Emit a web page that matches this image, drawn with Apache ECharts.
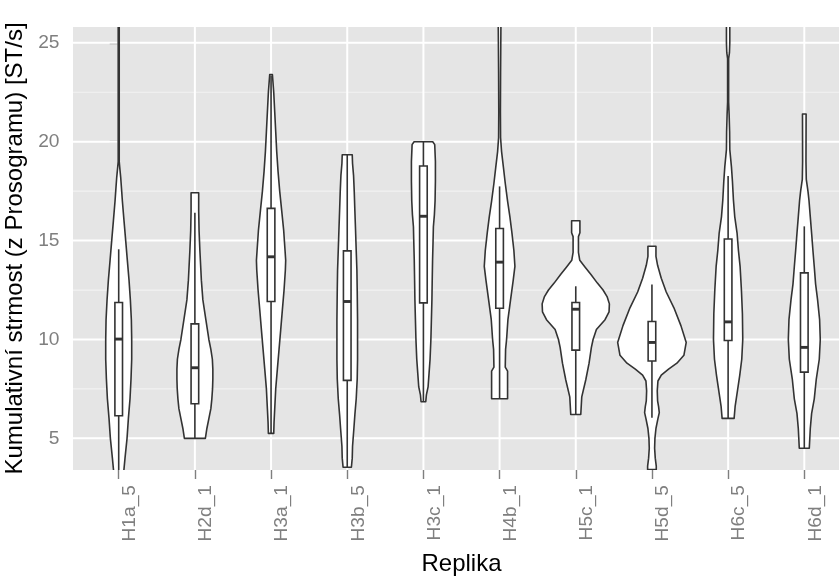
<!DOCTYPE html>
<html><head><meta charset="utf-8">
<script src="https://cdn.jsdelivr.net/npm/echarts@6/dist/echarts.min.js"></script>
<style>html,body{margin:0;padding:0;background:#fff}#chart{width:839px;height:577px}</style>
</head><body><div id="chart"></div>
<script>
// ---------- data ----------
const categories = ['H1a_5','H2d_1','H3a_1','H3b_5','H3c_1','H4b_1','H5c_1','H5d_5','H6c_5','H6d_1'];
const yTicks = [5, 10, 15, 20, 25];
const yMinorTicks = [7.5, 12.5, 17.5, 22.5];

// boxplot statistics per category
const q1          = [6.14, 6.75, 11.92, 7.93, 11.85, 11.58, 9.46, 8.91, 9.95, 8.35];
const median      = [10.02, 8.57, 14.18, 11.92, 16.23, 13.91, 11.53, 9.85, 10.89, 9.6];
const q3          = [11.87, 10.79, 16.63, 14.48, 18.77, 15.61, 11.87, 10.91, 15.08, 13.37];
const whiskerLow  = [2.8, 5.0, 5.25, 3.54, 6.85, 7.0, 6.21, 6.04, 6.01, 4.5];
const whiskerHigh = [14.56, 16.41, 23.35, 19.34, 20.0, 17.74, 12.69, 12.78, 18.27, 15.72];

// violin profiles: [value, relative density width (1 = widest violin)]
const violinH1a5 = [[26.5,0.015],[19.0,0.015],[18.7,0.03],[18.2,0.058],[17.5,0.087],[17.0,0.107],[16,0.155],[15,0.204],[14,0.252],[13,0.301],[12,0.340],[11,0.369],[10,0.379],[9,0.379],[8,0.359],[7,0.330],[6,0.282],[5,0.243],[4,0.184],[3.3,0.146],[2.8,0.12]];
const violinH2d1 = [[17.42,0.111],[16.5,0.111],[15.5,0.122],[14.5,0.146],[13.5,0.175],[13,0.189],[12,0.233],[11,0.320],[10,0.408],[9.5,0.466],[9,0.510],[8.5,0.524],[8,0.524],[7.5,0.515],[7,0.495],[6.5,0.466],[6,0.408],[5.5,0.350],[5.0,0.306]];
const violinH3a1 = [[23.4,0.039],[22.5,0.078],[21.5,0.107],[20.5,0.136],[19.5,0.165],[18.5,0.204],[17.5,0.252],[16.5,0.311],[15.5,0.369],[14.5,0.408],[14.0,0.427],[13.5,0.417],[12.5,0.379],[11.5,0.330],[10.5,0.282],[9.5,0.233],[8.5,0.184],[7.5,0.136],[6.5,0.107],[5.8,0.087],[5.25,0.078]];
const violinH3b5 = [[19.34,0.146],[18.9,0.155],[18.3,0.184],[17.5,0.204],[16.5,0.223],[15.5,0.243],[14.5,0.262],[13.5,0.282],[12.5,0.291],[11,0.301],[10,0.301],[9,0.301],[8,0.291],[7,0.262],[6.2,0.223],[5.5,0.194],[4.6,0.155],[4.0,0.146],[3.54,0.121]];
const violinH3c1 = [[20.0,0.272],[19.85,0.330],[19.0,0.350],[18.0,0.350],[17.0,0.340],[16.3,0.320],[15.7,0.291],[15.0,0.282],[14.0,0.267],[13.0,0.257],[12.0,0.248],[11.0,0.233],[10.0,0.218],[9.0,0.194],[8.3,0.165],[7.6,0.136],[7.2,0.087],[6.85,0.068]];
const violinH4b1 = [[26.5,0.039],[25.9,0.039],[23.5,0.029],[21.5,0.024],[20.2,0.029],[19.5,0.058],[18.7,0.112],[17.9,0.165],[17.0,0.233],[16.2,0.301],[15.4,0.359],[14.5,0.417],[13.7,0.447],[13.0,0.398],[12.0,0.320],[11.0,0.243],[10.0,0.204],[9.5,0.175],[8.6,0.165],[8.4,0.233],[7.0,0.233]];
const violinH5c1 = [[16.0,0.121],[15.4,0.121],[15.2,0.078],[14.4,0.078],[14.0,0.117],[13.68,0.262],[13.3,0.437],[12.85,0.631],[12.5,0.796],[12.17,0.913],[11.8,0.981],[11.4,0.971],[11.0,0.854],[10.5,0.602],[10.0,0.505],[9.6,0.456],[8.8,0.388],[7.95,0.291],[7.1,0.175],[6.21,0.146]];
const violinH5d5 = [[14.71,0.117],[14.2,0.117],[13.75,0.165],[13.1,0.272],[12.4,0.417],[11.6,0.641],[10.7,0.845],[9.85,1.0],[9.2,0.932],[8.8,0.728],[8.5,0.485],[8.2,0.272],[7.9,0.175],[7.4,0.155],[6.9,0.165],[6.6,0.194],[6.3,0.214],[6.0,0.175],[5.5,0.117],[5.0,0.087],[4.5,0.078],[4.0,0.097],[3.6,0.126],[3.42,0.126]];
const violinH6c5 = [[26.5,0.049],[25.0,0.049],[24.5,0.039],[24.2,0.015],[22.0,0.015],[21.4,0.029],[20.5,0.044],[19.6,0.049],[18.73,0.097],[18.0,0.126],[17.05,0.155],[16.2,0.194],[15.36,0.262],[14.5,0.301],[13.68,0.350],[12.5,0.388],[11.3,0.417],[10.0,0.427],[9.0,0.398],[8.2,0.340],[7.4,0.272],[6.6,0.204],[6.01,0.175]];
const violinH6d1 = [[21.4,0.053],[19.0,0.049],[18.1,0.058],[17.5,0.107],[17.05,0.136],[16.2,0.175],[15.36,0.214],[14.5,0.252],[13.68,0.291],[12.8,0.330],[12.0,0.388],[11.0,0.447],[10.0,0.466],[9.0,0.437],[8.0,0.350],[7.0,0.291],[6.26,0.214],[5.5,0.175],[4.5,0.146]];
const violins = [violinH1a5, violinH2d1, violinH3a1, violinH3b5, violinH3c1, violinH4b1, violinH5c1, violinH5d5, violinH6c5, violinH6d1];

// ---------- chart ----------
const VIOLIN_HALF = 0.45;  // widest violin = 0.9 category units
const BOX_HALF = 0.05;     // box width 0.1 category units
const INK = '#333333';
const LW = 1.6;
const FONT = '"Liberation Sans", Arial, Helvetica, sans-serif';

const chart = echarts.init(document.getElementById('chart'), null, {renderer: 'canvas'});

function clipRect(cs) {
  return {type: 'rect', shape: {x: cs.x, y: cs.y, width: cs.width, height: cs.height}};
}

function renderHLine(color, width) {
  return function (params, api) {
    const cs = params.coordSys;
    const y = api.coord([0, api.value(1)])[1];
    return {type: 'line', shape: {x1: cs.x, y1: y, x2: cs.x + cs.width, y2: y},
      style: {stroke: color, lineWidth: width}, silent: true};
  };
}
function renderVLine(params, api) {
  const cs = params.coordSys;
  const x = api.coord([api.value(0), 10])[0];
  return {type: 'line', shape: {x1: x, y1: cs.y, x2: x, y2: cs.y + cs.height},
    style: {stroke: '#ffffff', lineWidth: 2}, silent: true};
}

function renderViolin(params, api) {
  const i = api.value(0);
  const prof = violins[i];
  const c = (x, y) => api.coord([x, y]);
  const right = prof.map(([v, w]) => c(i + w * VIOLIN_HALF, v));
  const left = prof.slice().reverse().map(([v, w]) => c(i - w * VIOLIN_HALF, v));
  const bTop = c(i - BOX_HALF, q3[i]);
  const bBot = c(i + BOX_HALF, q1[i]);
  const med1 = c(i - BOX_HALF, median[i]);
  const med2 = c(i + BOX_HALF, median[i]);
  const wH = c(i, whiskerHigh[i]);
  const wL = c(i, whiskerLow[i]);
  const q3p = c(i, q3[i]);
  const q1p = c(i, q1[i]);
  const lineStyle = {stroke: INK, lineWidth: LW};
  return {
    type: 'group',
    clipPath: clipRect(params.coordSys),
    children: [
      {type: 'polygon', shape: {points: right.concat(left)},
        style: {fill: '#ffffff', stroke: INK, lineWidth: LW, lineJoin: 'round'}},
      {type: 'line', shape: {x1: q3p[0], y1: q3p[1], x2: wH[0], y2: wH[1]}, style: lineStyle},
      {type: 'line', shape: {x1: q1p[0], y1: q1p[1], x2: wL[0], y2: wL[1]}, style: lineStyle},
      {type: 'rect', shape: {x: bTop[0], y: bTop[1], width: bBot[0] - bTop[0], height: bBot[1] - bTop[1]},
        style: {fill: '#ffffff', stroke: INK, lineWidth: LW}},
      {type: 'line', shape: {x1: med1[0], y1: med1[1], x2: med2[0], y2: med2[1]},
        style: {stroke: INK, lineWidth: 2.9}}
    ]
  };
}

const option = {
  animation: false,
  backgroundColor: '#ffffff',
  grid: {left: 73, top: 27, width: 777, height: 443, show: true,
    backgroundColor: '#E5E5E5', borderWidth: 0, containLabel: false,
    outerBoundsMode: 'none'},
  xAxis: {
    type: 'value', min: -0.6, max: 9.6,
    axisLine: {show: false},
    splitLine: {show: false},
    axisTick: {show: true, customValues: categories.map((c, i) => i), length: 9,
      lineStyle: {color: '#7F7F7F', width: 1.4}},
    axisLabel: {show: true, customValues: categories.map((c, i) => i),
      formatter: v => categories[Math.round(v)], rotate: 90, margin: 15,
      verticalAlign: 'top', lineHeight: 22, hideOverlap: false,
      color: '#7F7F7F', fontSize: 19.2, fontFamily: FONT},
    name: 'Replika', nameLocation: 'middle', nameGap: 82,
    nameTextStyle: {color: '#000000', fontSize: 24, fontFamily: FONT}
  },
  yAxis: {
    type: 'value', min: 3.4, max: 25.8,
    axisLine: {show: false},
    splitLine: {show: false},
    axisTick: {show: true, customValues: yTicks, length: 9,
      lineStyle: {color: '#7F7F7F', width: 1.4}},
    axisLabel: {show: true, customValues: yTicks, margin: 13.5,
      color: '#7F7F7F', fontSize: 19.2, fontFamily: FONT},
    name: 'Kumulativní strmost (z Prosogramu) [ST/s]', nameLocation: 'middle', nameGap: 32,
    nameTextStyle: {color: '#000000', fontSize: 24, fontFamily: FONT}
  },
  series: [
    {type: 'custom', name: 'minorGrid', z: 1, silent: true,
      data: yMinorTicks.map(v => [0, v]), encode: {x: 0, y: 1},
      renderItem: renderHLine('#F2F2F2', 1.2)},
    {type: 'custom', name: 'majorGridH', z: 2, silent: true,
      data: yTicks.map(v => [0, v]), encode: {x: 0, y: 1},
      renderItem: renderHLine('#FFFFFF', 2)},
    {type: 'custom', name: 'majorGridV', z: 2, silent: true,
      data: categories.map((c, i) => [i, 10]), encode: {x: 0, y: 1},
      renderItem: renderVLine},
    {type: 'custom', name: 'violins', z: 5, silent: true,
      data: categories.map((c, i) => [i, median[i]]), encode: {x: 0, y: 1},
      renderItem: renderViolin}
  ]
};
chart.setOption(option);
</script>
</body></html>
